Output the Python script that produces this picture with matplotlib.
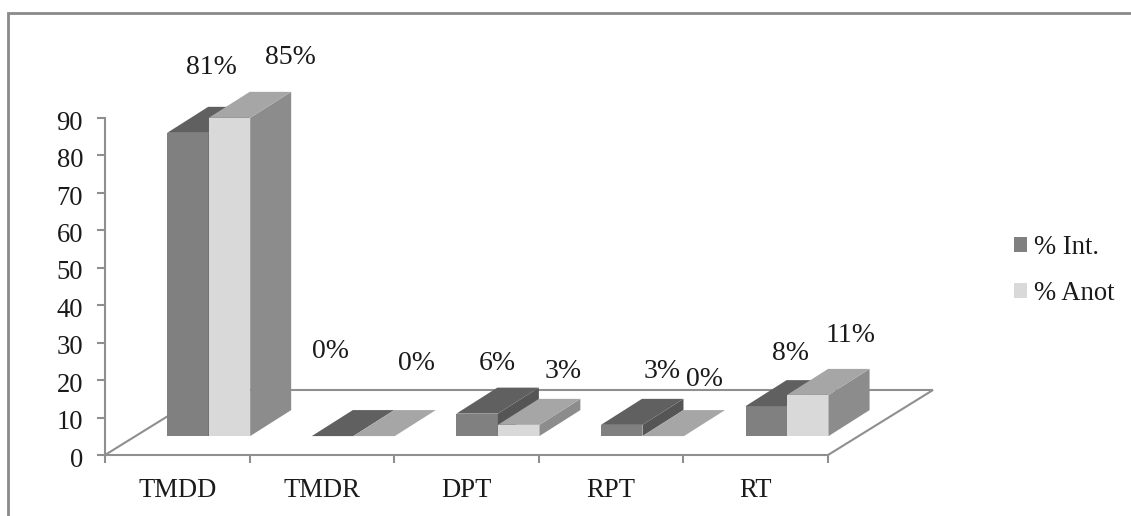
import matplotlib
matplotlib.use("Agg")
import matplotlib.pyplot as plt
from matplotlib.lines import Line2D
from matplotlib.transforms import ScaledTranslation

categories = ["TMDD", "TMDR", "DPT", "RPT", "RT"]
pct_int = [81, 0, 6, 3, 8]
pct_anot = [85, 0, 3, 0, 11]
series_names = ["% Int.", "% Anot"]
y_ticks = [0, 10, 20, 30, 40, 50, 60, 70, 80, 90]

W, H = 1131, 516
X0, PX_X = 105.0, 144.6
Y0, PX_Y = 455.0, 3.744

plt.rcParams["font.family"] = ["Liberation Serif", "DejaVu Serif"]
FS = 19.2
FS_LABEL = 20
GRID = "#8f8f8f"
TXT = "#1a1a1a"

fig = plt.figure(figsize=(W / 100, H / 100), dpi=100, facecolor="white")
ax = fig.add_axes([0, 0, 1, 1], facecolor="none")
ax.set_xlim((0 - X0) / PX_X, (W - X0) / PX_X)
ax.set_ylim((Y0 - H) / PX_Y, Y0 / PX_Y)

BASE = 5.05
BAR_W = 0.287
LEFT = 0.43
DX = 41 / PX_X
DY = 26 / PX_Y
FLOOR_DX = 105 / PX_X
FLOOR_DY = 65 / PX_Y
n = len(categories)

# floor
ax.plot([0, FLOOR_DX, n + FLOOR_DX, n], [0, FLOOR_DY, FLOOR_DY, 0],
        color=GRID, lw=1.5, zorder=1, solid_joinstyle="miter")


def draw_bar(x, v, front, top, side, z):
    y = BASE + v
    container = ax.bar(x, v, width=BAR_W, bottom=BASE, align="edge", color=front, lw=0, zorder=z)
    if v > 0:
        ax.fill([x + BAR_W, x + BAR_W + DX, x + BAR_W + DX, x + BAR_W],
                [BASE, BASE + DY, y + DY, y], color=side, lw=0, zorder=z)
    ax.fill([x, x + DX, x + BAR_W + DX, x + BAR_W],
            [y, y + DY, y + DY, y], color=top, lw=0, zorder=z)
    return container


legend_handles = []
for k in range(n):
    x = k + LEFT
    z = 3 + k
    h1 = draw_bar(x, pct_int[k], "#808080", "#606060", "#555555", z)
    h2 = draw_bar(x + BAR_W, pct_anot[k], "#d9d9d9", "#a6a6a6", "#8c8c8c", z + 0.1)
    if k == 0:
        legend_handles = [h1, h2]

# data labels (positions in pixels, matched one to one with the values)
label_px = [(211, 67), (290, 58), (331, 352), (417, 364), (497, 363),
            (563, 371), (662, 372), (705, 380), (791, 354), (851, 336)]
label_vals = [v for pair in zip(pct_int, pct_anot) for v in pair]
for (px, py), v in zip(label_px, label_vals):
    ax.text((px - X0) / PX_X, (Y0 - py) / PX_Y, f"{v}%", ha="center", va="center",
            fontsize=FS_LABEL, color=TXT, zorder=20)

# axes
for s in ("top", "right"):
    ax.spines[s].set_visible(False)
for s in ("left", "bottom"):
    ax.spines[s].set_color(GRID)
    ax.spines[s].set_linewidth(1.5)
    ax.spines[s].set_position(("data", 0))
ax.spines["left"].set_bounds(0, 90)
ax.spines["bottom"].set_bounds(0, n)

ax.set_yticks(y_ticks)
ax.tick_params(axis="y", direction="out", length=5.8, width=1.5, color=GRID,
               labelsize=FS, labelcolor=TXT, pad=10)
ax.set_xticks(range(n + 1))
ax.set_xticklabels([""] * (n + 1))
ax.set_xticks([k + 0.5 for k in range(n)], labels=categories, minor=True)
ax.tick_params(axis="x", which="major", direction="out", length=5.8, width=1.5, color=GRID)
ax.tick_params(axis="x", which="minor", length=0, labelsize=FS, labelcolor=TXT, pad=16.5)

shift = ScaledTranslation(0, -1.5 / 72, fig.dpi_scale_trans)
for lbl in ax.get_yticklabels():
    lbl.set_transform(lbl.get_transform() + shift)

# legend
leg = ax.legend(legend_handles, series_names, loc="upper left",
                bbox_to_anchor=(1006 / W, 1 - 227 / H), frameon=False, fontsize=FS,
                handlelength=0.48, handleheight=0.5, handletextpad=0.28,
                labelspacing=0.8, labelcolor=TXT, borderpad=0.3, borderaxespad=0)

# outer frame: left and top only
fx = lambda p: p / W
fy = lambda p: 1 - p / H
fig.add_artist(Line2D([fx(7.5), fx(7.5), fx(W)], [fy(H), fy(12.5), fy(12.5)],
                      color="#8a8a8a", lw=2.0, solid_joinstyle="miter"))

fig.savefig("out.png", dpi=100)
